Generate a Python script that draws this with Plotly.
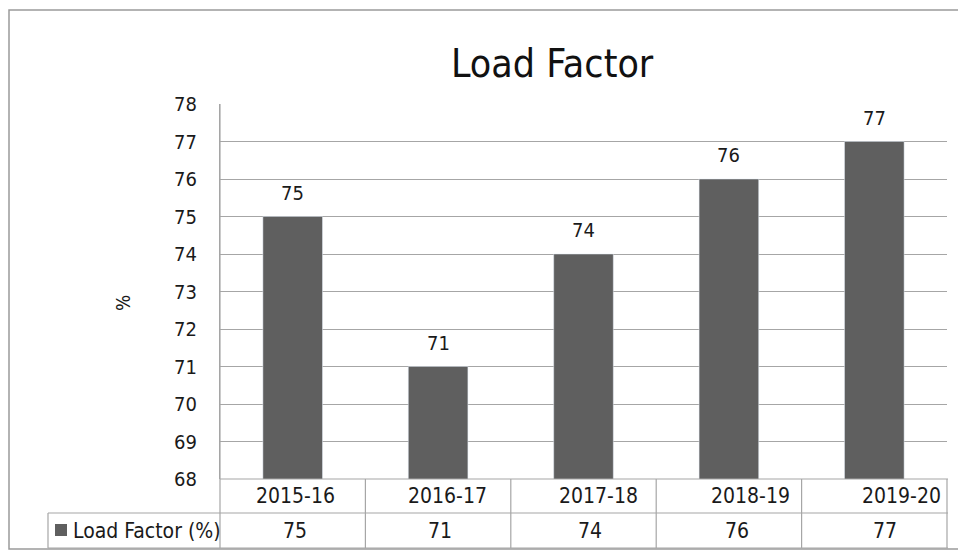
import plotly.graph_objects as go

categories = ["2015-16", "2016-17", "2017-18", "2018-19", "2019-20"]
values = [75, 71, 74, 76, 77]
series_name = "Load Factor (%)"
y_ticks = [68, 69, 70, 71, 72, 73, 74, 75, 76, 77, 78]

W, H = 958, 550
L, R, T, B = 220, 947, 104, 479
FONT = "DejaVu Sans Condensed, DejaVu Sans, sans-serif"
BAR = "#5f5f5f"
LINE = "#a6a6a6"
TXT = "#1a1a1a"
# slight horizontal offsets of the table texts seen in the original rendering
cat_shift = [3, 9, 15, 22, 27]
val_shift = [2, 2, 6, 8, 11]


def px_x(px):
    return (px - L) / (R - L)


def px_y(py):
    return (B - py) / (B - T)


fig = go.Figure()
fig.add_trace(go.Bar(
    x=categories, y=values, marker_color=BAR, width=0.41,
    name=series_name, cliponaxis=False,
))

shapes = []
shapes.append(dict(type="rect", xref="paper", yref="paper",
                   x0=px_x(9), x1=px_x(960), y0=px_y(549), y1=px_y(10),
                   line=dict(color="#9a9a9a", width=1.5), layer="below"))
row1_top, row2_top, row2_bot = 479, 513, 548
n = len(categories)
shapes.append(dict(type="line", xref="paper", yref="paper",
                   x0=0, x1=px_x(948), y0=px_y(row1_top), y1=px_y(row1_top),
                   line=dict(color=LINE, width=1.2)))
for yy in (row2_top, row2_bot):
    shapes.append(dict(type="line", xref="paper", yref="paper",
                       x0=px_x(48), x1=px_x(948), y0=px_y(yy), y1=px_y(yy),
                       line=dict(color=LINE, width=1.2)))
shapes.append(dict(type="line", xref="paper", yref="paper",
                   x0=px_x(48), x1=px_x(48), y0=px_y(row2_top), y1=px_y(row2_bot),
                   line=dict(color=LINE, width=1.2)))
shapes.append(dict(type="line", xref="paper", yref="paper",
                   x0=0, x1=0, y0=1, y1=px_y(row2_bot),
                   line=dict(color=LINE, width=1.2)))
for i in range(1, n + 1):
    xb = i / n
    shapes.append(dict(type="line", xref="paper", yref="paper",
                       x0=xb, x1=xb, y0=px_y(row1_top), y1=px_y(row2_bot),
                       line=dict(color=LINE, width=1.2)))
shapes.append(dict(type="rect", xref="paper", yref="paper",
                   x0=px_x(55), x1=px_x(67), y0=px_y(536), y1=px_y(524),
                   fillcolor=BAR, line=dict(width=0)))

annotations = []
for i, (c, v) in enumerate(zip(categories, values)):
    xc = (i + 0.5) / n
    annotations.append(dict(xref="x", yref="y", x=c, y=v, text=str(v),
                            xanchor="center", yanchor="bottom", yshift=10,
                            showarrow=False,
                            font=dict(size=20, color=TXT, family=FONT)))
    annotations.append(dict(xref="paper", yref="paper", x=xc, y=px_y(496),
                            xanchor="center", yanchor="middle",
                            xshift=cat_shift[i],
                            text=c, showarrow=False,
                            font=dict(size=21, color=TXT, family=FONT)))
    annotations.append(dict(xref="paper", yref="paper", x=xc, y=px_y(531),
                            xanchor="center", yanchor="middle",
                            xshift=val_shift[i],
                            text=str(v), showarrow=False,
                            font=dict(size=21, color=TXT, family=FONT)))
annotations.append(dict(xref="paper", yref="paper", x=px_x(71), y=px_y(531),
                        xanchor="left", yanchor="middle",
                        text=series_name, showarrow=False,
                        font=dict(size=21, color=TXT, family=FONT)))
annotations.append(dict(xref="paper", yref="paper", x=px_x(123), y=px_y(303),
                        xanchor="center", yanchor="middle",
                        text="%", textangle=-90, showarrow=False,
                        font=dict(size=19, color=TXT, family=FONT)))
annotations.append(dict(xref="paper", yref="paper", x=px_x(552), y=px_y(64),
                        xanchor="center", yanchor="middle",
                        text="Load Factor", showarrow=False,
                        font=dict(size=39, color="#111111", family=FONT)))

fig.update_layout(
    width=W, height=H,
    margin=dict(l=L, r=W - R, t=T, b=H - B, pad=0),
    paper_bgcolor="white", plot_bgcolor="white",
    showlegend=False,
    font=dict(family=FONT, color=TXT),
    xaxis=dict(showticklabels=False, showgrid=False, zeroline=False,
               showline=False, ticks=""),
    yaxis=dict(range=[68, 78], tickvals=y_ticks, showgrid=True,
               gridcolor=LINE, gridwidth=1.2, zeroline=False,
               showline=True, linecolor=LINE, linewidth=1.2,
               ticks="", ticklabelstandoff=18,
               tickfont=dict(size=20, color=TXT, family=FONT)),
    shapes=shapes, annotations=annotations,
)

fig.write_html("out.html")
